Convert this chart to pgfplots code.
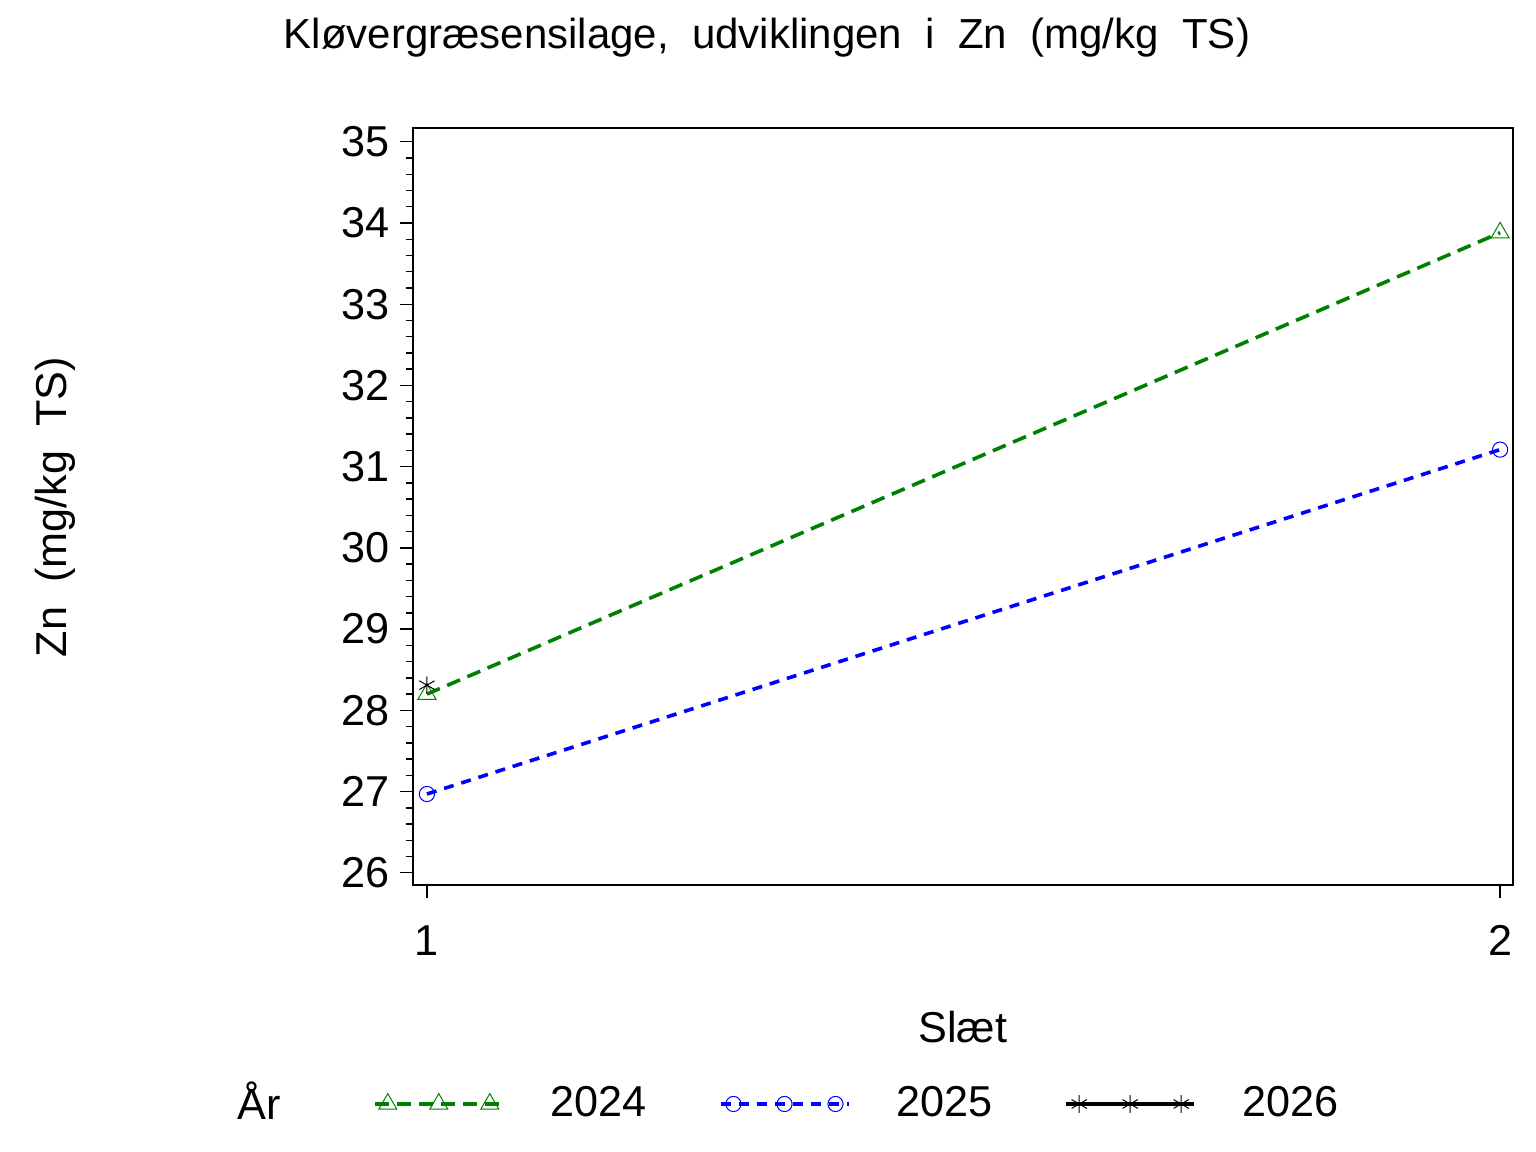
\documentclass[border=0pt]{standalone}
\usepackage{fontspec}
\setmainfont{Liberation Sans}
\usepackage{pgfplots}
\pgfplotsset{compat=1.18}
\definecolor{sasgreen}{RGB}{0,128,0}
\definecolor{sasblue}{RGB}{0,0,255}
\begin{document}
\begin{tikzpicture}
\path[use as bounding box] (-103.25pt,-66.75pt) rectangle (280.75pt,221.25pt);
\begin{axis}[
 at={(0pt,0pt)}, anchor=south west,
 scale only axis, width=275pt, height=189.25pt,
 xmin=0.987, xmax=2.012, ymin=25.85, ymax=35.17,
 xtick={1,2}, ytick={26,27,...,35}, minor y tick num=4,
 xtick pos=bottom, ytick pos=left,
 tick align=outside, major tick length=3.25pt, minor tick length=1.75pt,
 axis line style={line width=0.4pt},
 every tick/.style={black, line width=0.35pt},
 font=\fontsize{10.8}{13}\selectfont,
 /pgf/number format/assume math mode=true,
 yticklabel style={inner sep=0pt, xshift=-2.5pt},
 xticklabel style={inner sep=0pt, yshift=-6.75pt},
 title={Kløvergræsensilage,\ \ udviklingen\ \ i\ \ Zn\ \ (mg/kg\ \ TS)},
 every axis title/.style={at={(axis description cs:0.3218,1.1189)}, anchor=center, inner sep=0pt,
   font=\fontsize{10.5}{13}\selectfont},
 xlabel={Slæt},
 xlabel style={at={(axis description cs:0.5,-0.1876)}, anchor=center, inner sep=0pt},
 ylabel={Zn\ \ (mg/kg\ \ TS)},
 ylabel style={at={(axis description cs:-0.3255,0.4993)}, anchor=center, inner sep=0pt},
 legend columns=4,
 legend style={at={(axis description cs:-0.2018,-0.2893)}, anchor=west, draw=none, fill=none, inner sep=0pt,
   nodes={inner sep=0pt},
   /tikz/every odd column/.append style={column sep=11.5pt},
   /tikz/every even column/.append style={column sep=18pt}},
 legend cell align=left,
 legend image code/.code={
   \draw[#1,mark=none] (0pt,0pt) -- (32pt,0pt);
   \draw[#1,solid] plot[only marks] coordinates {(3.25pt,0pt) (16pt,0pt) (28.75pt,0pt)};
 },
]
\addlegendimage{empty legend}
\addlegendentry{År\rule{5pt}{0pt}}
\addplot[sasgreen, line width=0.9pt, dash pattern=on 3.5pt off 2pt,
  mark=triangle, mark size=2.6pt, mark options={solid, line width=0.25pt}]
  coordinates {(1,28.20) (2,33.88)};
\addlegendentry{2024}
\addplot[sasblue, line width=0.9pt, dash pattern=on 2.5pt off 2pt,
  mark=o, mark size=1.9pt, mark options={solid, line width=0.25pt}]
  coordinates {(1,26.97) (2,31.21)};
\addlegendentry{2025}
\addplot[black, line width=0.9pt, solid,
  mark=asterisk, mark size=2.2pt, mark options={solid, line width=0.25pt}]
  coordinates {(1,28.31)};
\addlegendentry{2026}
\end{axis}
\end{tikzpicture}
\end{document}
